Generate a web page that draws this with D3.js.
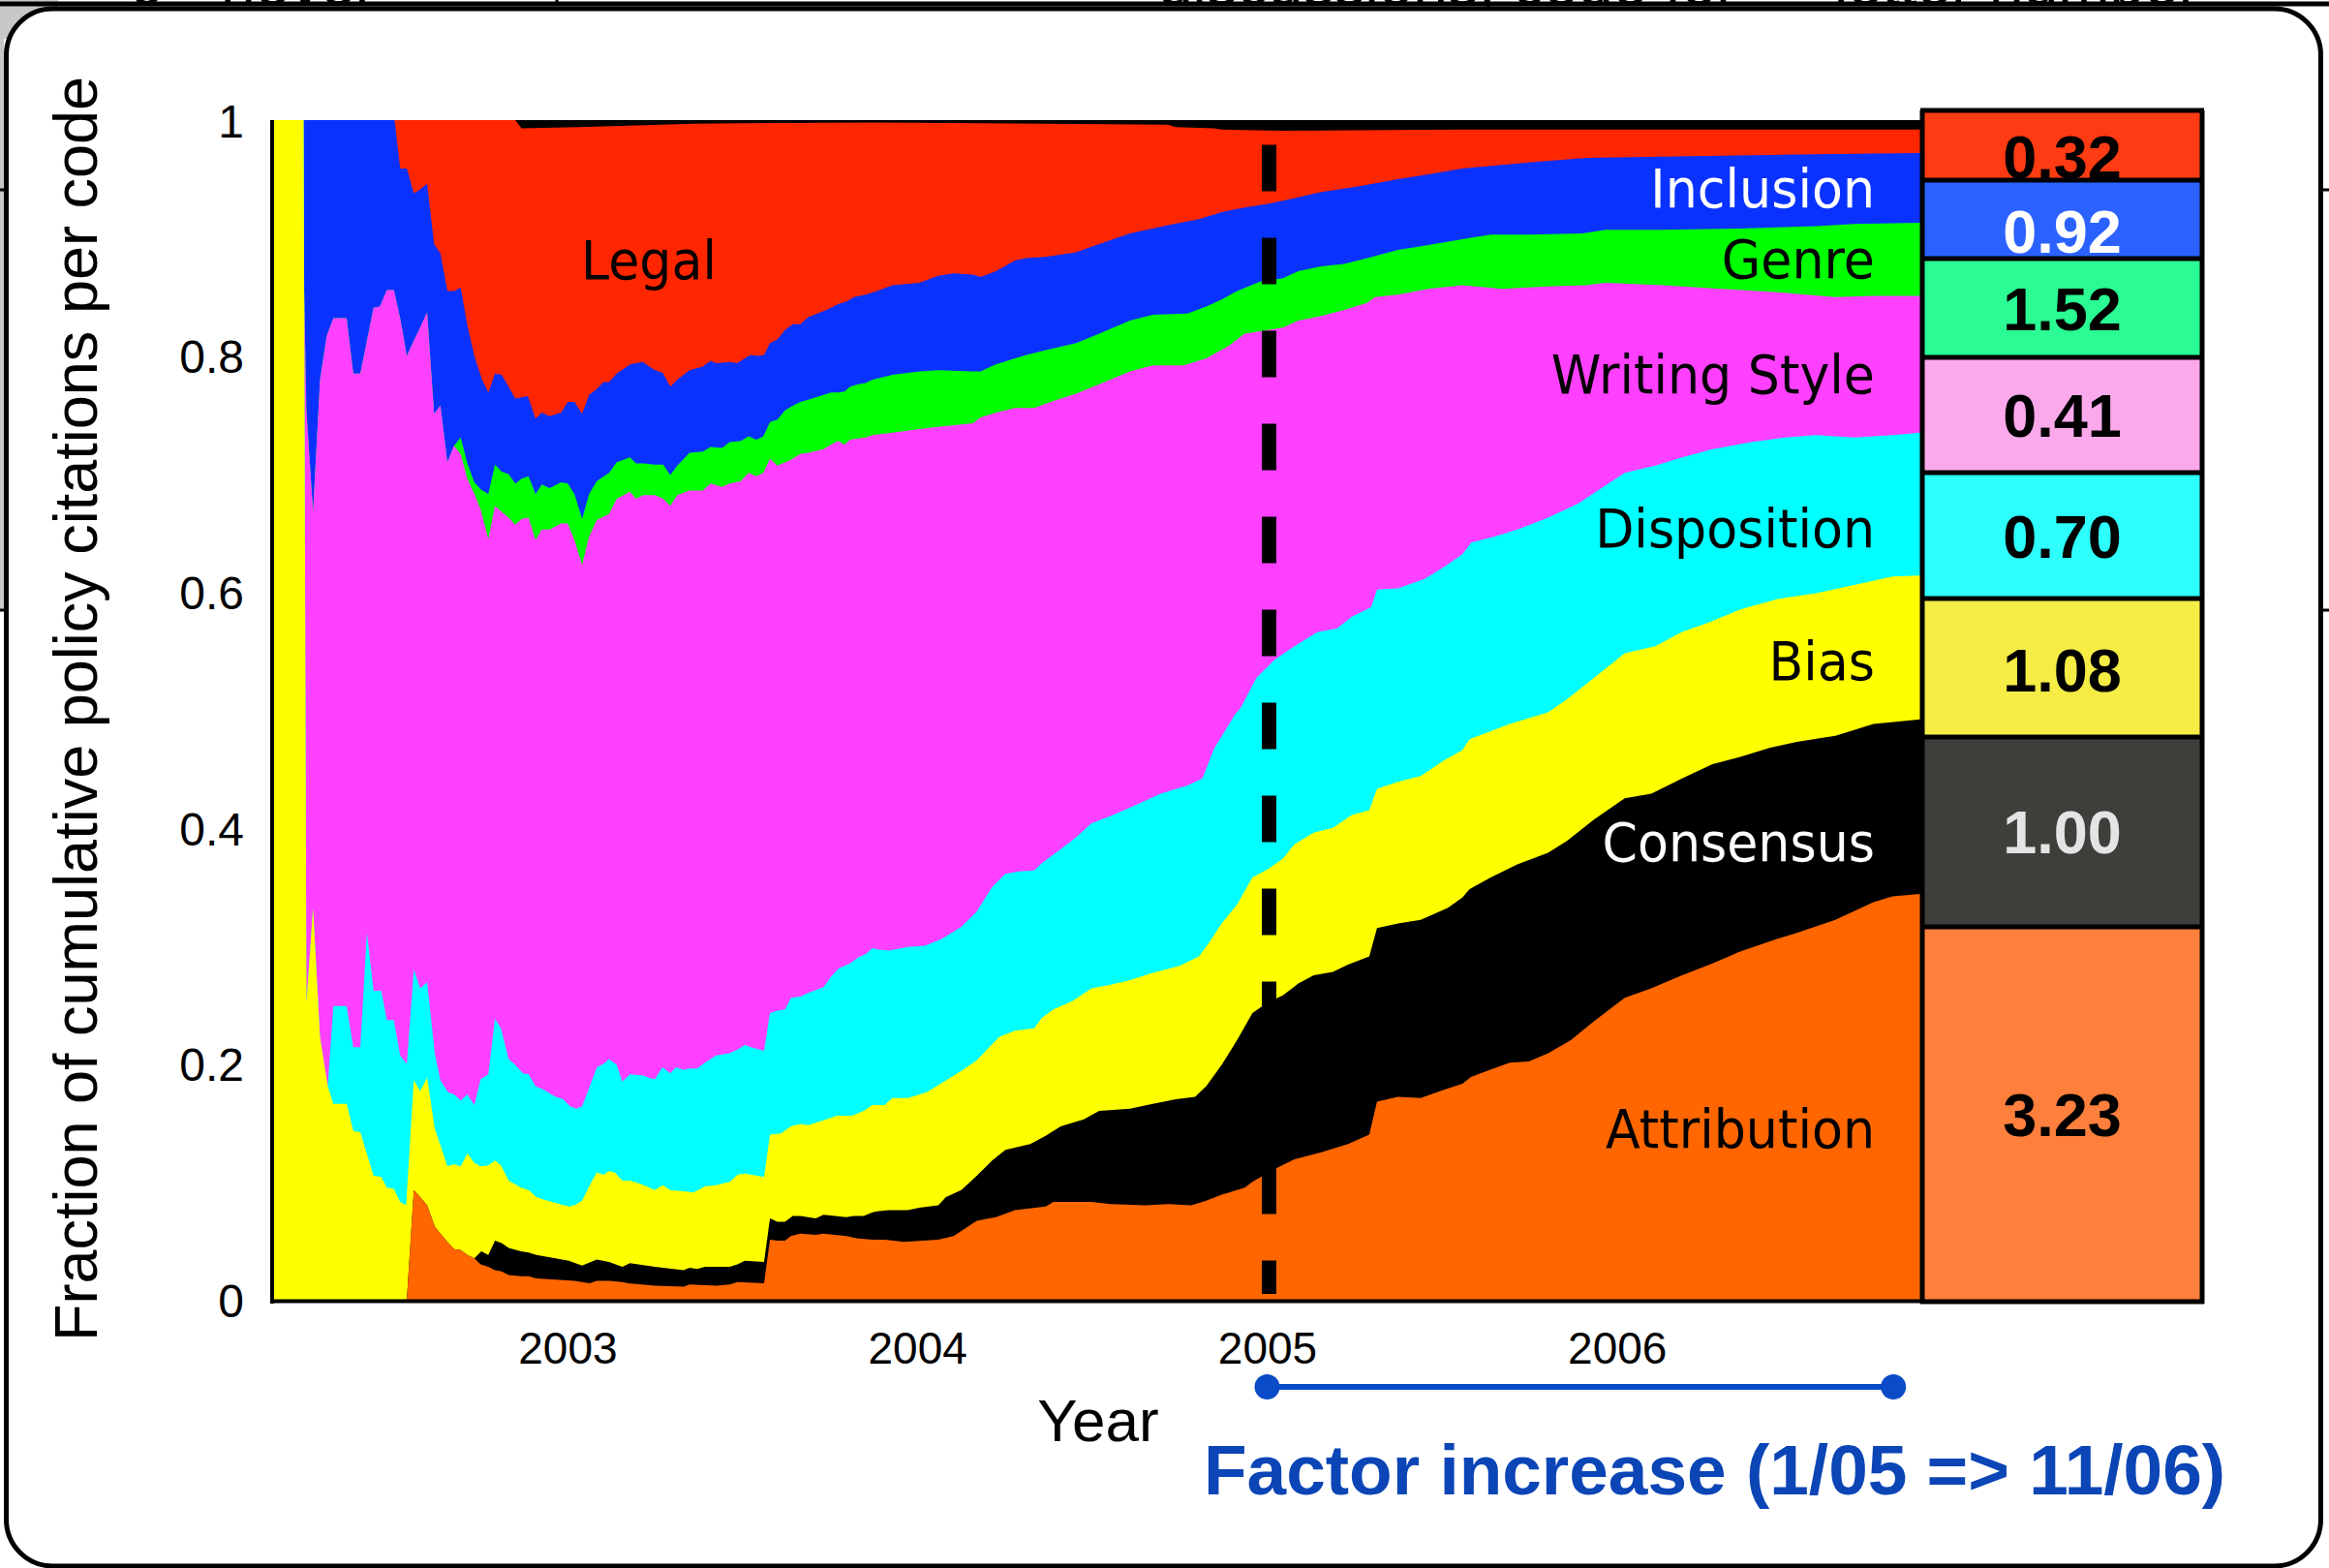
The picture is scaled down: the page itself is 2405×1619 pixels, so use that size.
<!DOCTYPE html>
<html><head><meta charset="utf-8">
<script src="https://cdn.jsdelivr.net/npm/d3@7"></script>
<style>
html,body{margin:0;padding:0;background:#fff;}
svg{display:block;}
</style></head><body>
<svg id="chart" width="2405" height="1619"></svg>
<script>
// ---------------- DATA (decimal year, cumulative fraction at top of each band) ----------------
const seriesNames = ["Attribution","Consensus","Bias","Disposition","Writing Style","Genre","Inclusion","Legal"];
const factorIncrease = [3.23, 1.00, 1.08, 0.70, 0.41, 1.52, 0.92, 0.32];
const yearTicks = [2003, 2004, 2005, 2006];
const fractionTicks = [0, 0.2, 0.4, 0.6, 0.8, 1];
const markerYear = 2005;
const factorSpan = [2005.0, 2006.79];

const attributionTop = [[2002.156,0],[2002.541,0],[2002.561,0.093],[2002.579,0.087],[2002.599,0.080],[2002.621,0.062],[2002.637,0.056],[2002.657,0.049],[2002.676,0.043],[2002.695,0.042],[2002.714,0.038],[2002.734,0.035],[2002.752,0.030],[2002.774,0.028],[2002.793,0.025],[2002.812,0.024],[2002.832,0.021],[2002.867,0.020],[2002.889,0.020],[2002.911,0.018],[2002.966,0.017],[2003.020,0.016],[2003.042,0.015],[2003.064,0.014],[2003.084,0.016],[2003.119,0.016],[2003.157,0.015],[2003.174,0.014],[2003.250,0.012],[2003.332,0.011],[2003.349,0.013],[2003.425,0.012],[2003.464,0.013],[2003.486,0.015],[2003.562,0.014],[2003.579,0.051],[2003.600,0.050],[2003.622,0.050],[2003.639,0.054],[2003.666,0.056],[2003.710,0.055],[2003.732,0.056],[2003.797,0.054],[2003.830,0.052],[2003.872,0.051],[2003.907,0.051],[2003.962,0.049],[2004.017,0.050],[2004.060,0.051],[2004.104,0.054],[2004.170,0.067],[2004.225,0.070],[2004.279,0.076],[2004.367,0.079],[2004.389,0.083],[2004.498,0.083],[2004.553,0.081],[2004.651,0.080],[2004.717,0.081],[2004.783,0.080],[2004.826,0.084],[2004.870,0.089],[2004.936,0.095],[2004.958,0.100],[2005.023,0.111],[2005.078,0.119],[2005.155,0.125],[2005.231,0.132],[2005.292,0.140],[2005.314,0.168],[2005.374,0.172],[2005.439,0.171],[2005.505,0.178],[2005.558,0.183],[2005.584,0.189],[2005.693,0.201],[2005.748,0.202],[2005.803,0.209],[2005.868,0.220],[2005.934,0.236],[2006.022,0.256],[2006.098,0.264],[2006.186,0.275],[2006.273,0.285],[2006.350,0.295],[2006.459,0.306],[2006.514,0.311],[2006.624,0.322],[2006.733,0.337],[2006.788,0.342],[2006.867,0.344]];

const consensusTop = [[2002.156,0],[2002.541,0],[2002.561,0.093],[2002.579,0.087],[2002.599,0.080],[2002.621,0.062],[2002.637,0.056],[2002.657,0.049],[2002.676,0.043],[2002.695,0.042],[2002.714,0.038],[2002.734,0.035],[2002.754,0.041],[2002.774,0.038],[2002.793,0.050],[2002.812,0.048],[2002.832,0.044],[2002.867,0.041],[2002.889,0.040],[2002.911,0.038],[2002.966,0.035],[2003.004,0.033],[2003.042,0.029],[2003.084,0.034],[2003.119,0.032],[2003.157,0.028],[2003.179,0.031],[2003.250,0.028],[2003.332,0.025],[2003.349,0.027],[2003.371,0.026],[2003.393,0.028],[2003.464,0.028],[2003.486,0.030],[2003.507,0.033],[2003.562,0.032],[2003.579,0.069],[2003.600,0.066],[2003.622,0.066],[2003.644,0.071],[2003.666,0.071],[2003.710,0.069],[2003.732,0.072],[2003.765,0.071],[2003.797,0.070],[2003.819,0.071],[2003.847,0.071],[2003.872,0.074],[2003.885,0.075],[2003.918,0.076],[2003.973,0.076],[2004.006,0.078],[2004.060,0.080],[2004.082,0.087],[2004.126,0.093],[2004.170,0.105],[2004.214,0.118],[2004.252,0.127],[2004.323,0.132],[2004.367,0.139],[2004.410,0.147],[2004.476,0.153],[2004.520,0.160],[2004.608,0.162],[2004.673,0.166],[2004.739,0.170],[2004.794,0.172],[2004.826,0.181],[2004.870,0.199],[2004.914,0.220],[2004.958,0.243],[2005.002,0.252],[2005.045,0.258],[2005.089,0.268],[2005.133,0.275],[2005.188,0.278],[2005.231,0.284],[2005.292,0.291],[2005.314,0.315],[2005.374,0.319],[2005.439,0.322],[2005.516,0.332],[2005.558,0.341],[2005.578,0.348],[2005.639,0.358],[2005.715,0.369],[2005.803,0.379],[2005.857,0.389],[2005.934,0.407],[2006.022,0.425],[2006.098,0.429],[2006.186,0.442],[2006.273,0.454],[2006.350,0.460],[2006.438,0.468],[2006.514,0.473],[2006.624,0.478],[2006.733,0.488],[2006.867,0.492]];

const biasTop = [[2002.156,1],[2002.246,1],[2002.254,0.251],[2002.273,0.332],[2002.293,0.222],[2002.315,0.181],[2002.331,0.166],[2002.369,0.166],[2002.388,0.143],[2002.408,0.142],[2002.446,0.105],[2002.468,0.104],[2002.484,0.095],[2002.504,0.094],[2002.522,0.083],[2002.539,0.080],[2002.561,0.186],[2002.579,0.177],[2002.599,0.188],[2002.621,0.145],[2002.637,0.131],[2002.657,0.113],[2002.676,0.115],[2002.695,0.113],[2002.714,0.124],[2002.734,0.116],[2002.752,0.113],[2002.774,0.114],[2002.793,0.118],[2002.810,0.114],[2002.832,0.101],[2002.867,0.095],[2002.889,0.093],[2002.911,0.087],[2002.931,0.085],[2002.966,0.082],[2003.004,0.079],[2003.020,0.080],[2003.042,0.084],[2003.064,0.097],[2003.084,0.108],[2003.103,0.106],[2003.119,0.109],[2003.135,0.108],[2003.157,0.101],[2003.179,0.101],[2003.212,0.098],[2003.250,0.093],[2003.272,0.097],[2003.294,0.093],[2003.332,0.092],[2003.360,0.091],[2003.393,0.096],[2003.425,0.097],[2003.464,0.100],[2003.486,0.106],[2003.507,0.107],[2003.562,0.104],[2003.579,0.140],[2003.611,0.141],[2003.639,0.147],[2003.666,0.149],[2003.688,0.148],[2003.732,0.152],[2003.770,0.156],[2003.814,0.156],[2003.847,0.160],[2003.872,0.165],[2003.907,0.165],[2003.929,0.171],[2003.973,0.171],[2004.027,0.176],[2004.071,0.184],[2004.126,0.194],[2004.170,0.203],[2004.235,0.223],[2004.279,0.228],[2004.334,0.230],[2004.356,0.239],[2004.389,0.246],[2004.443,0.253],[2004.498,0.264],[2004.553,0.267],[2004.608,0.271],[2004.673,0.277],[2004.750,0.283],[2004.805,0.291],[2004.837,0.304],[2004.870,0.319],[2004.914,0.335],[2004.958,0.358],[2005.002,0.365],[2005.045,0.374],[2005.078,0.386],[2005.133,0.396],[2005.188,0.400],[2005.242,0.411],[2005.292,0.415],[2005.314,0.433],[2005.374,0.439],[2005.439,0.444],[2005.505,0.457],[2005.558,0.466],[2005.578,0.475],[2005.639,0.482],[2005.693,0.488],[2005.748,0.493],[2005.803,0.498],[2005.857,0.509],[2005.934,0.527],[2006.022,0.548],[2006.109,0.554],[2006.186,0.566],[2006.262,0.574],[2006.350,0.585],[2006.459,0.594],[2006.569,0.599],[2006.678,0.606],[2006.788,0.613],[2006.867,0.614]];

const dispositionTop = [[2002.156,1],[2002.246,1],[2002.254,0.251],[2002.273,0.332],[2002.293,0.222],[2002.315,0.181],[2002.331,0.249],[2002.369,0.249],[2002.388,0.214],[2002.408,0.214],[2002.427,0.311],[2002.446,0.262],[2002.468,0.262],[2002.484,0.237],[2002.504,0.237],[2002.522,0.207],[2002.541,0.200],[2002.561,0.280],[2002.579,0.264],[2002.599,0.269],[2002.621,0.209],[2002.637,0.186],[2002.659,0.176],[2002.676,0.174],[2002.695,0.169],[2002.714,0.174],[2002.734,0.165],[2002.752,0.187],[2002.774,0.191],[2002.793,0.238],[2002.810,0.230],[2002.832,0.204],[2002.851,0.199],[2002.873,0.192],[2002.889,0.191],[2002.909,0.181],[2002.933,0.178],[2002.966,0.172],[2002.988,0.170],[2003.007,0.164],[2003.026,0.162],[2003.042,0.164],[2003.064,0.181],[2003.084,0.197],[2003.103,0.200],[2003.119,0.204],[2003.141,0.199],[2003.157,0.185],[2003.179,0.191],[2003.217,0.190],[2003.234,0.188],[2003.250,0.187],[2003.272,0.197],[2003.294,0.192],[2003.310,0.197],[2003.332,0.195],[2003.349,0.196],[2003.371,0.196],[2003.393,0.201],[2003.425,0.207],[2003.464,0.209],[2003.486,0.212],[2003.507,0.216],[2003.524,0.214],[2003.562,0.211],[2003.579,0.243],[2003.600,0.245],[2003.622,0.246],[2003.639,0.256],[2003.666,0.257],[2003.688,0.260],[2003.732,0.265],[2003.754,0.274],[2003.776,0.281],[2003.808,0.285],[2003.830,0.290],[2003.852,0.293],[2003.872,0.298],[2003.885,0.297],[2003.918,0.296],[2003.973,0.299],[2004.022,0.300],[2004.071,0.306],[2004.126,0.316],[2004.170,0.329],[2004.214,0.350],[2004.252,0.361],[2004.290,0.363],[2004.334,0.364],[2004.356,0.370],[2004.410,0.382],[2004.454,0.392],[2004.498,0.404],[2004.553,0.410],[2004.629,0.420],[2004.695,0.429],[2004.772,0.436],[2004.815,0.442],[2004.848,0.467],[2004.881,0.483],[2004.908,0.496],[2004.925,0.502],[2004.969,0.527],[2005.023,0.543],[2005.078,0.554],[2005.144,0.566],[2005.199,0.569],[2005.242,0.579],[2005.297,0.587],[2005.314,0.602],[2005.374,0.603],[2005.450,0.611],[2005.505,0.621],[2005.558,0.632],[2005.584,0.642],[2005.650,0.647],[2005.715,0.653],[2005.803,0.663],[2005.890,0.675],[2005.945,0.686],[2006.022,0.701],[2006.109,0.707],[2006.186,0.714],[2006.273,0.721],[2006.383,0.727],[2006.481,0.731],[2006.569,0.733],[2006.678,0.731],[2006.788,0.733],[2006.867,0.735]];

const writingStyleTop = [[2002.156,1],[2002.238,1],[2002.254,0.754],[2002.273,0.668],[2002.293,0.780],[2002.312,0.817],[2002.331,0.832],[2002.369,0.832],[2002.388,0.785],[2002.408,0.785],[2002.427,0.813],[2002.446,0.841],[2002.464,0.842],[2002.484,0.856],[2002.504,0.856],[2002.522,0.832],[2002.541,0.800],[2002.561,0.813],[2002.579,0.824],[2002.599,0.837],[2002.619,0.751],[2002.637,0.758],[2002.657,0.710],[2002.676,0.724],[2002.695,0.717],[2002.714,0.696],[2002.734,0.683],[2002.752,0.670],[2002.774,0.645],[2002.793,0.673],[2002.812,0.668],[2002.832,0.663],[2002.851,0.657],[2002.869,0.662],[2002.889,0.663],[2002.909,0.644],[2002.927,0.653],[2002.949,0.653],[2002.982,0.658],[2003.001,0.658],[2003.020,0.644],[2003.042,0.623],[2003.062,0.647],[2003.084,0.661],[2003.119,0.666],[2003.141,0.679],[2003.179,0.685],[2003.196,0.679],[2003.217,0.682],[2003.250,0.682],[2003.274,0.679],[2003.294,0.673],[2003.314,0.682],[2003.349,0.686],[2003.387,0.686],[2003.409,0.692],[2003.442,0.689],[2003.464,0.692],[2003.496,0.694],[2003.518,0.701],[2003.540,0.698],[2003.560,0.701],[2003.579,0.713],[2003.600,0.707],[2003.639,0.712],[2003.666,0.717],[2003.688,0.718],[2003.732,0.721],[2003.754,0.725],[2003.773,0.728],[2003.792,0.725],[2003.808,0.729],[2003.830,0.730],[2003.852,0.731],[2003.872,0.733],[2003.929,0.735],[2004.006,0.738],[2004.060,0.740],[2004.159,0.743],[2004.181,0.748],[2004.225,0.752],[2004.279,0.756],[2004.334,0.756],[2004.389,0.762],[2004.454,0.768],[2004.520,0.776],[2004.608,0.787],[2004.673,0.792],[2004.761,0.792],[2004.826,0.798],[2004.892,0.809],[2004.936,0.819],[2005.002,0.822],[2005.045,0.824],[2005.089,0.830],[2005.155,0.834],[2005.220,0.839],[2005.286,0.845],[2005.308,0.850],[2005.374,0.852],[2005.461,0.857],[2005.558,0.860],[2005.671,0.857],[2005.803,0.859],[2005.912,0.860],[2005.967,0.862],[2006.131,0.860],[2006.295,0.857],[2006.459,0.854],[2006.624,0.850],[2006.733,0.851],[2006.867,0.851]];

const genreTop = [[2002.156,1],[2002.238,1],[2002.254,0.754],[2002.273,0.668],[2002.293,0.780],[2002.312,0.817],[2002.331,0.832],[2002.369,0.832],[2002.388,0.785],[2002.408,0.785],[2002.427,0.813],[2002.446,0.841],[2002.464,0.842],[2002.484,0.856],[2002.504,0.856],[2002.522,0.832],[2002.541,0.800],[2002.561,0.813],[2002.579,0.824],[2002.599,0.837],[2002.619,0.751],[2002.637,0.758],[2002.657,0.710],[2002.676,0.724],[2002.695,0.731],[2002.714,0.709],[2002.734,0.693],[2002.752,0.687],[2002.774,0.683],[2002.793,0.708],[2002.812,0.702],[2002.832,0.700],[2002.851,0.692],[2002.869,0.696],[2002.889,0.698],[2002.909,0.683],[2002.927,0.691],[2002.949,0.688],[2002.982,0.693],[2003.001,0.692],[2003.020,0.683],[2003.042,0.662],[2003.062,0.683],[2003.084,0.694],[2003.119,0.701],[2003.141,0.710],[2003.179,0.714],[2003.196,0.709],[2003.217,0.709],[2003.250,0.708],[2003.274,0.708],[2003.294,0.699],[2003.314,0.707],[2003.349,0.718],[2003.387,0.719],[2003.409,0.723],[2003.442,0.722],[2003.464,0.727],[2003.496,0.728],[2003.518,0.732],[2003.540,0.729],[2003.560,0.732],[2003.579,0.744],[2003.600,0.746],[2003.622,0.754],[2003.639,0.757],[2003.666,0.761],[2003.688,0.763],[2003.732,0.767],[2003.754,0.769],[2003.773,0.769],[2003.792,0.770],[2003.808,0.774],[2003.830,0.776],[2003.852,0.777],[2003.872,0.780],[2003.929,0.784],[2004.006,0.787],[2004.060,0.788],[2004.159,0.787],[2004.181,0.787],[2004.225,0.793],[2004.279,0.798],[2004.312,0.801],[2004.367,0.805],[2004.454,0.811],[2004.520,0.819],[2004.608,0.830],[2004.673,0.835],[2004.772,0.836],[2004.826,0.842],[2004.870,0.848],[2004.914,0.855],[2004.980,0.863],[2005.045,0.866],[2005.089,0.872],[2005.155,0.876],[2005.220,0.878],[2005.286,0.883],[2005.374,0.890],[2005.461,0.894],[2005.558,0.899],[2005.639,0.903],[2005.748,0.903],[2005.901,0.904],[2005.967,0.907],[2006.131,0.907],[2006.350,0.908],[2006.569,0.910],[2006.678,0.912],[2006.867,0.913]];

const inclusionTop = [[2002.156,1],[2002.506,1],[2002.522,0.959],[2002.541,0.959],[2002.561,0.938],[2002.579,0.941],[2002.599,0.946],[2002.619,0.895],[2002.637,0.887],[2002.657,0.855],[2002.676,0.855],[2002.695,0.858],[2002.714,0.826],[2002.734,0.800],[2002.756,0.780],[2002.774,0.769],[2002.793,0.785],[2002.812,0.784],[2002.832,0.774],[2002.851,0.764],[2002.887,0.766],[2002.909,0.747],[2002.927,0.752],[2002.949,0.749],[2002.982,0.752],[2003.001,0.761],[2003.020,0.761],[2003.042,0.751],[2003.062,0.767],[2003.084,0.772],[2003.103,0.778],[2003.119,0.778],[2003.141,0.785],[2003.179,0.793],[2003.215,0.795],[2003.250,0.788],[2003.272,0.786],[2003.294,0.774],[2003.314,0.780],[2003.349,0.788],[2003.387,0.791],[2003.409,0.796],[2003.425,0.794],[2003.464,0.795],[2003.486,0.794],[2003.507,0.798],[2003.524,0.801],[2003.544,0.800],[2003.562,0.801],[2003.579,0.811],[2003.600,0.814],[2003.622,0.822],[2003.644,0.827],[2003.666,0.827],[2003.688,0.833],[2003.732,0.838],[2003.754,0.841],[2003.773,0.844],[2003.797,0.846],[2003.819,0.850],[2003.852,0.852],[2003.885,0.855],[2003.929,0.860],[2004.006,0.862],[2004.060,0.868],[2004.104,0.870],[2004.159,0.869],[2004.181,0.867],[2004.225,0.872],[2004.279,0.881],[2004.312,0.883],[2004.367,0.884],[2004.454,0.888],[2004.520,0.895],[2004.608,0.904],[2004.717,0.911],[2004.805,0.916],[2004.870,0.922],[2004.936,0.926],[2005.002,0.929],[2005.067,0.933],[2005.155,0.939],[2005.264,0.944],[2005.374,0.950],[2005.461,0.954],[2005.558,0.959],[2005.748,0.964],[2005.912,0.968],[2006.131,0.969],[2006.350,0.970],[2006.569,0.971],[2006.867,0.972]];

const legalTop = [[2002.156,1],[2002.851,1],[2002.869,0.993],[2003.031,0.994],[2003.360,0.997],[2003.872,0.998],[2004.717,0.996],[2004.739,0.994],[2004.848,0.993],[2004.870,0.992],[2005.045,0.991],[2005.558,0.992],[2006.867,0.992]];

const otherTop = [[2002.156,1],[2006.867,1]];

// ---------------- STYLE ----------------
const plotColors = ["#ff6600","#000000","#ffff00","#00ffff","#ff40ff","#00ff00","#0a32ff","#ff2600"];
const boxColors  = ["#ff7f3d","#3e3f3a","#f5ec46","#2efffd","#fca9ec","#2afb92","#2b62ff","#ff3b13"];
const boxText    = ["#000","#e4e4e4","#000","#000","#000","#000","#fff","#000"];
const labelColor = ["#000","#fff","#000","#000","#000","#000","#fff","#000"];

const svg = d3.select("#chart");
const W = 2405, H = 1619;

// slide panel background
svg.append("rect").attr("x",0).attr("y",0).attr("width",W).attr("height",H).attr("fill","#fff");
svg.append("rect").attr("x",0).attr("y",0).attr("width",60).attr("height",40).attr("fill","#c8c8c8");
svg.append("rect").attr("x",0).attr("y",0).attr("width",4).attr("height",630).attr("fill","#c8c8c8");
const topFrag = svg.append("g").attr("font-family","Liberation Sans, Arial, sans-serif").attr("font-size",64).attr("fill","#000");
topFrag.append("text").attr("x",135).attr("y",5).text("9");
topFrag.append("text").attr("x",228).attr("y",5).text("never");
topFrag.append("text").attr("x",1196).attr("y",5).text("discussions, code for");
topFrag.append("text").attr("x",1894).attr("y",5).text("letter number");
svg.append("line").attr("x1",0).attr("x2",W).attr("y1",4).attr("y2",4).attr("stroke","#000").attr("stroke-width",5);
svg.append("rect").attr("x",6.5).attr("y",9).attr("width",2390).attr("height",1608).attr("rx",48)
  .attr("fill","#fff").attr("stroke","#000").attr("stroke-width",5);
[196, 630].forEach(yy=>{
  svg.append("line").attr("x1",0).attr("x2",8).attr("y1",yy).attr("y2",yy).attr("stroke","#000").attr("stroke-width",3);
  svg.append("line").attr("x1",2397).attr("x2",2405).attr("y1",yy).attr("y2",yy).attr("stroke","#000").attr("stroke-width",3);
});
svg.append("line").attr("x1",575).attr("x2",575).attr("y1",0).attr("y2",6).attr("stroke","#000").attr("stroke-width",3);

// ---------------- SCALES ----------------
const x = d3.scaleLinear().domain([2002.156, 2006.867]).range([281, 1983]);
const y = d3.scaleLinear().domain([0, 1]).range([1342, 124]);

const area = d3.area().x(d => x(d[0])).y0(y(0)).y1(d => y(d[1]));

// painter's order: top band first, then progressively lower cumulative bands
const layers = [
  {data: otherTop, color: "#000000"},
  {data: legalTop, color: plotColors[7]},
  {data: inclusionTop, color: plotColors[6]},
  {data: genreTop, color: plotColors[5]},
  {data: writingStyleTop, color: plotColors[4]},
  {data: dispositionTop, color: plotColors[3]},
  {data: biasTop, color: plotColors[2]},
  {data: consensusTop, color: plotColors[1]},
  {data: attributionTop, color: plotColors[0]}
];
const gArea = svg.append("g");
layers.forEach(l => {
  gArea.append("path").datum(l.data).attr("d", area).attr("fill", l.color);
});

// dashed marker line at Jan 2005 (with soft glow)
const defs = svg.append("defs");
defs.append("filter").attr("id","glow").attr("x","-2").attr("y","-0.1").attr("width","5").attr("height","1.2")
  .append("feGaussianBlur").attr("stdDeviation",6);
const dashY0 = y(0.979), dashY1 = y(0.005);
svg.append("line").attr("x1",x(markerYear)+2).attr("x2",x(markerYear)+2).attr("y1",dashY0).attr("y2",dashY1)
  .attr("stroke","#000").attr("stroke-width",16).attr("stroke-dasharray","48,48").attr("opacity",0.55).attr("filter","url(#glow)");
svg.append("line").attr("x1",x(markerYear)+2).attr("x2",x(markerYear)+2).attr("y1",dashY0).attr("y2",dashY1)
  .attr("stroke","#000").attr("stroke-width",15).attr("stroke-dasharray","48,48");

// axis frame lines
svg.append("line").attr("x1",281).attr("x2",281).attr("y1",y(1)).attr("y2",y(0)+4).attr("stroke","#000").attr("stroke-width",4);
svg.append("line").attr("x1",279).attr("x2",1985).attr("y1",y(0)+1.5).attr("y2",y(0)+1.5).attr("stroke","#000").attr("stroke-width",4);

// ---------------- AXES ----------------
const yAxis = svg.append("g").attr("transform","translate(252,0)")
  .call(d3.axisLeft(y).tickValues(fractionTicks).tickSize(0).tickPadding(0).tickFormat(d3.format("")));
yAxis.select(".domain").remove();
yAxis.selectAll("text").attr("font-family","Liberation Sans, Arial, sans-serif").attr("font-size",48).attr("fill","#000").attr("dy","0.36em");

const xAxis = svg.append("g").attr("transform","translate(0,1375)")
  .call(d3.axisBottom(x).tickValues(yearTicks).tickSize(0).tickPadding(0).tickFormat(d3.format("d")));
xAxis.select(".domain").remove();
xAxis.selectAll("text").attr("font-family","Liberation Sans, Arial, sans-serif").attr("font-size",46).attr("fill","#000");

svg.append("text").attr("transform","translate(100,732) rotate(-90)").attr("text-anchor","middle")
  .attr("font-family","Liberation Sans, Arial, sans-serif").attr("font-size",63).attr("fill","#000")
  .text("Fraction of cumulative policy citations per code");
svg.append("text").attr("x",1134).attr("y",1488).attr("text-anchor","middle")
  .attr("font-family","Liberation Sans, Arial, sans-serif").attr("font-size",62).attr("fill","#000").text("Year");

// ---------------- SERIES LABELS ----------------
const labelFont = "DejaVu Sans, Verdana, sans-serif";
const labelPos = [
  {x:1936, y:1185, a:"end"}, {x:1936, y:889, a:"end"}, {x:1936, y:702, a:"end"}, {x:1936, y:565, a:"end"},
  {x:1936, y:406, a:"end"}, {x:1936, y:287, a:"end"}, {x:1936, y:214, a:"end"}, {x:600, y:288, a:"start"}
];
seriesNames.forEach((n,i) => {
  svg.append("text").attr("transform",`translate(${labelPos[i].x},${labelPos[i].y}) scale(0.95,1)`)
    .attr("text-anchor",labelPos[i].a).attr("font-family",labelFont).attr("font-size",55)
    .attr("fill",labelColor[i]).text(n);
});

// ---------------- FACTOR-INCREASE BOXES ----------------
const boxEdges = [1344, 957, 761, 618, 488, 369, 267, 186, 114]; // bottom→top
const boxBase  = [1173, 881, 714, 576, 451, 341, 261, 184];
const bx0 = 1985, bx1 = 2274;
const gBox = svg.append("g");
factorIncrease.forEach((v,i) => {
  gBox.append("rect").attr("x",bx0).attr("y",boxEdges[i+1]).attr("width",bx1-bx0).attr("height",boxEdges[i]-boxEdges[i+1])
    .attr("fill",boxColors[i]);
  gBox.append("text").attr("x",(bx0+bx1)/2).attr("y",boxBase[i]).attr("text-anchor","middle")
    .attr("font-family","Liberation Sans, Arial, sans-serif").attr("font-weight","bold").attr("font-size",63)
    .attr("fill",boxText[i]).text(d3.format(".2f")(v));
});
boxEdges.forEach(e => {
  gBox.append("line").attr("x1",bx0-2).attr("x2",bx1+2).attr("y1",e).attr("y2",e).attr("stroke","#000").attr("stroke-width",5);
});
gBox.append("line").attr("x1",bx0).attr("x2",bx0).attr("y1",boxEdges[8]).attr("y2",boxEdges[0]+2).attr("stroke","#000").attr("stroke-width",5);
gBox.append("line").attr("x1",bx1).attr("x2",bx1).attr("y1",boxEdges[8]).attr("y2",boxEdges[0]+2).attr("stroke","#000").attr("stroke-width",5);

// ---------------- FACTOR SPAN ANNOTATION ----------------
const blue = "#0a4bc8";
svg.append("line").attr("x1",x(factorSpan[0])).attr("x2",x(factorSpan[1])).attr("y1",1432).attr("y2",1432)
  .attr("stroke",blue).attr("stroke-width",6);
factorSpan.forEach(fy => svg.append("circle").attr("cx",x(fy)).attr("cy",1432).attr("r",13).attr("fill",blue));
svg.append("text").attr("x",1243).attr("y",1543).attr("font-family","Liberation Sans, Arial, sans-serif")
  .attr("font-weight","bold").attr("font-size",73).attr("fill","#0b45b6").text("Factor increase (1/05 => 11/06)");
</script>
</body></html>
